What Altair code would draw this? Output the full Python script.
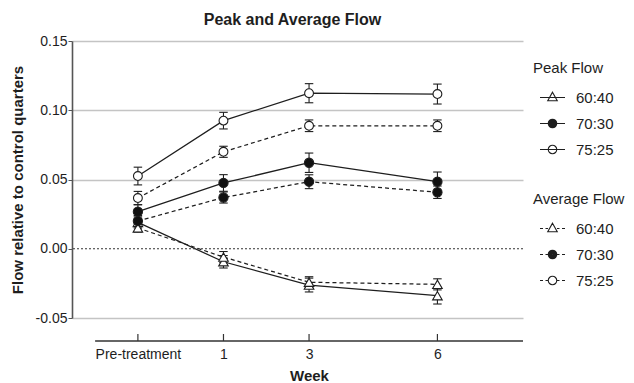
import altair as alt
import pandas as pd

# ---------------- data ----------------
weeks = [-1, 1, 3, 6]
week_labels = ["Pre-treatment", "1", "3", "6"]
ratios = ["60:40", "70:30", "75:25"]
flows = ["Peak Flow", "Average Flow"]

peak_6040 = [0.019, -0.0094, -0.0262, -0.0339]
peak_7030 = [0.0268, 0.0475, 0.0621, 0.0484]
peak_7525 = [0.0525, 0.0925, 0.1123, 0.1117]
avg_6040 = [0.015, -0.0060, -0.0242, -0.0257]
avg_7030 = [0.020, 0.0370, 0.0484, 0.0408]
avg_7525 = [0.0366, 0.0700, 0.0888, 0.0888]

peak_6040_err = [0.004, 0.0045, 0.005, 0.006]
peak_7030_err = [0.005, 0.006, 0.007, 0.007]
peak_7525_err = [0.0064, 0.006, 0.0069, 0.0072]
avg_6040_err = [0.003, 0.004, 0.004, 0.004]
avg_7030_err = [0.004, 0.004, 0.005, 0.0045]
avg_7525_err = [0.0048, 0.004, 0.0042, 0.0042]

y_ticks = [-0.05, 0.0, 0.05, 0.10, 0.15]
zero_line = [0.0]
x_axis_span = [-2, 8]
x_view = [-2.54, 8.0]
y_view = [-0.05, 0.15]

# ---------------- tables ----------------
series = {
    ("Peak Flow", "60:40"): (peak_6040, peak_6040_err),
    ("Peak Flow", "70:30"): (peak_7030, peak_7030_err),
    ("Peak Flow", "75:25"): (peak_7525, peak_7525_err),
    ("Average Flow", "60:40"): (avg_6040, avg_6040_err),
    ("Average Flow", "70:30"): (avg_7030, avg_7030_err),
    ("Average Flow", "75:25"): (avg_7525, avg_7525_err),
}
rows = []
for (flow, ratio), (vals, errs) in series.items():
    for w, v, e in zip(weeks, vals, errs):
        rows.append({"week": w, "value": v, "lo": v - e, "hi": v + e,
                     "ratio": ratio, "flow": flow, "key": f"{flow}|{ratio}"})
df = pd.DataFrame(rows)

W, H = 451, 277
AXIS_OFF = 23
FONT = "Liberation Sans"
INK = "#1e1e1e"

xs = alt.Scale(domain=x_view, nice=False, zero=False)
ys = alt.Scale(domain=y_view, nice=False, zero=False)

label_expr = "datum.label"
for w, lab in zip(weeks, week_labels):
    label_expr = f"datum.value == {w} ? '{lab}' : ({label_expr})"

x_axis = alt.Axis(values=weeks, labelExpr=label_expr, domain=False, ticks=False,
                  tickSize=0, grid=False, offset=AXIS_OFF, labelPadding=6,
                  labelFontSize=14, labelColor=INK, labelFont=FONT,
                  title="Week", titleFont=FONT, titleFontSize=15,
                  titleFontWeight="bold", titleColor=INK, titlePadding=7,
                  titleX=237)
y_axis = alt.Axis(values=y_ticks, format=".2f",
                  labelExpr="replace(datum.label, '\u2212', '-')",
                  tickSize=4, tickColor="#555",
                  domainColor="#555", domainWidth=1.6, labelPadding=1,
                  labelFontSize=14, labelColor=INK, labelFont=FONT,
                  grid=True, gridColor="#c4c4c4", gridWidth=1.3,
                  gridOpacity={"condition": {"test": "datum.value === 0", "value": 0}, "value": 1},
                  title="Flow relative to control quarters", titleFont=FONT,
                  titleFontSize=15, titleFontWeight="bold", titleColor=INK,
                  titlePadding=10)


def X(field):
    return alt.X(field, scale=xs, axis=x_axis)


def Y(field):
    return alt.Y(field, scale=ys, axis=y_axis)


base = alt.Chart(df)

# lines
peak_lines = base.transform_filter(alt.datum.flow == "Peak Flow").mark_line(
    color=INK, strokeWidth=1.25
).encode(x=X("week:Q"), y=Y("value:Q"), detail="ratio:N")
avg_lines = base.transform_filter(alt.datum.flow == "Average Flow").mark_line(
    color=INK, strokeWidth=1.25, strokeDash=[4, 3]
).encode(x=X("week:Q"), y=Y("value:Q"), detail="ratio:N")

# zero dotted line
zero = alt.Chart(pd.DataFrame({"y": zero_line})).mark_rule(
    color="#333", strokeDash=[2, 2], strokeWidth=1
).encode(y=Y("y:Q"))

# x axis baseline and upward ticks
xline = alt.Chart(pd.DataFrame({"a": [x_axis_span[0]], "b": [x_axis_span[1]]})).mark_rule(
    color="#333", strokeWidth=1.4
).encode(x=X("a:Q"), x2="b:Q", y=alt.value(H + AXIS_OFF))

xticks = alt.Chart(pd.DataFrame({"w": weeks})).mark_rule(
    color="#333", strokeWidth=1.2
).encode(x=X("w:Q"), y=alt.value(H + AXIS_OFF - 7), y2=alt.value(H + AXIS_OFF))

# error bars
err = base.mark_rule(color=INK, strokeWidth=1.1).encode(
    x=X("week:Q"), y=Y("lo:Q"), y2="hi:Q")
cap_shape = "M-1,0L1,0"
cap_lo = base.mark_point(shape=cap_shape, size=72, filled=False, color=INK,
                         strokeWidth=1.1, opacity=1).encode(x=X("week:Q"), y=Y("lo:Q"))
cap_hi = base.mark_point(shape=cap_shape, size=72, filled=False, color=INK,
                         strokeWidth=1.1, opacity=1).encode(x=X("week:Q"), y=Y("hi:Q"))

# points
points = base.mark_point(filled=True, stroke=INK, strokeWidth=1.1, opacity=1).encode(
    x=X("week:Q"),
    y=Y("value:Q"),
    shape=alt.Shape("ratio:N", scale=alt.Scale(domain=ratios,
                    range=["triangle-up", "circle", "circle"]), legend=None),
    fill=alt.Fill("ratio:N", scale=alt.Scale(domain=ratios,
                  range=["white", "#111", "white"]), legend=None),
    size=alt.Size("ratio:N", scale=alt.Scale(domain=ratios, range=[92, 78, 78]), legend=None),
)


# legend symbols: line + marker paths (filled marker drawn as concentric rings)
def ring(r):
    return f"M{r},0A{r},{r} 0 1,1 -{r},0A{r},{r} 0 1,1 {r},0Z"


tri = "M0,-1.05L0.95,0.65L-0.95,0.65Z"
circ = ring(0.85)
disc = "".join(ring(r) for r in [0.85, 0.65, 0.45, 0.25, 0.08])
solid = "M-2.5,0L2.5,0"
dashed = "M-2.5,0L-1.9,0M-1.4,0L-0.9,0M0.9,0L1.4,0M1.9,0L2.5,0"
marker_paths = [tri, disc, circ]


def legend_layer(flow, line_path, ly):
    keys = [f"{flow}|{r}" for r in ratios]
    leg = alt.Legend(title=flow, orient="none", legendX=461, legendY=ly,
                     labelExpr="split(datum.label, '|')[1]",
                     symbolStrokeWidth=1.1, symbolSize=100, symbolOpacity=1)
    return base.transform_filter("false").mark_point(
        filled=False, stroke=INK, color=INK, strokeWidth=1.1, opacity=1, size=100
    ).encode(
        x=X("week:Q"),
        y=Y("value:Q"),
        shape=alt.Shape("key:N", scale=alt.Scale(domain=keys,
                        range=[line_path + m for m in marker_paths]), legend=leg),
    )


leg_peak = legend_layer("Peak Flow", solid, 20)
leg_avg = legend_layer("Average Flow", dashed, 151)

chart = alt.layer(
    peak_lines, avg_lines, zero, xline, xticks, err, cap_lo, cap_hi, points,
    leg_peak, leg_avg
).resolve_scale(
    shape="independent", fill="independent", size="independent"
).resolve_legend(
    shape="independent", fill="independent"
).properties(
    width=W, height=H,
    title=alt.Title("Peak and Average Flow", font=FONT, fontSize=16,
                    fontWeight="bold", color=INK, anchor="middle", offset=6, dx=-5),
    padding={"left": 64, "top": 33, "right": 103, "bottom": 65},
    autosize=alt.AutoSizeParams(type="none"),
).configure_view(stroke=None).configure_legend(
    titleFont=FONT, titleFontSize=15, titleFontWeight="normal", titleColor=INK,
    labelFont=FONT, labelFontSize=15, labelColor=INK,
    padding=0, rowPadding=10, titlePadding=14, symbolOffset=12, labelOffset=16,
)

chart.save("out.html", embed_options={"renderer": "svg", "actions": False})
